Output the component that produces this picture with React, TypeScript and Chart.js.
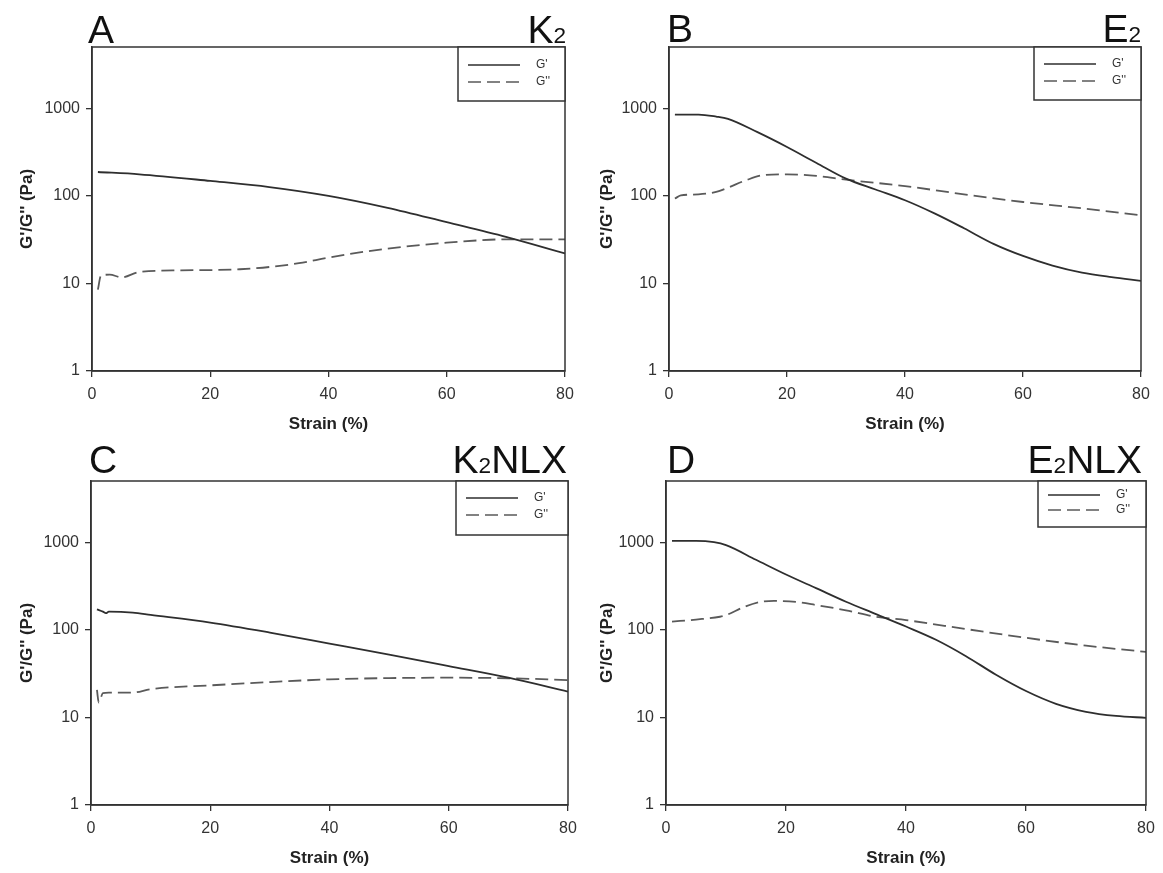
import React, { useEffect, useRef } from 'react';
import { Chart, registerables } from 'chart.js';

Chart.register(...registerables);

// ---------- shared axis ticks ----------
const xTickValues = [0, 20, 40, 60, 80];
const yTickValues = [1, 10, 100, 1000];
const yMin = 1;
const yMax = 5000;
const xMin = 0;
const xMax = 80;

const seriesLabels = ["G'", "G''"];
const xAxisTitle = 'Strain (%)';
const yAxisTitle = "G'/G'' (Pa)";

// ---------- Panel A: K2 ----------
const strainA_G1 = [1, 8, 20, 30, 40, 50, 60, 70, 80];
const valueA_G1 = [187, 176, 148, 126, 100, 73, 50, 34, 22];
const strainA_G2 = [1, 1.5, 3, 5, 8, 15, 20, 25, 30, 35, 40, 45, 50, 55, 60, 65, 70, 80];
const valueA_G2 = [8.5, 12.2, 12.6, 11.7, 13.5, 14.1, 14.2, 14.5, 15.4, 17, 19.7, 22.4, 25, 27.2, 29.2, 30.9, 31.9, 31.9];

// ---------- Panel B: E2 ----------
const strainB_G1 = [1, 5, 8, 10, 15, 20, 25, 30, 35, 40, 45, 50, 55, 60, 65, 70, 75, 80];
const valueB_G1 = [847, 847, 804, 757, 533, 361, 237, 157, 118, 89, 63, 42.6, 28.3, 20.6, 16, 13.3, 11.8, 10.7];
const strainB_G2 = [1, 2, 5, 8, 10, 13, 16, 20, 25, 30, 40, 50, 60, 70, 80];
const valueB_G2 = [93, 101, 104, 111, 124, 150, 172, 176, 169, 153, 129, 104, 85, 72, 60];

// ---------- Panel C: K2NLX ----------
const strainC_G1 = [1, 2, 2.5, 3, 7, 10, 20, 30, 40, 50, 60, 70, 80];
const valueC_G1 = [171, 161, 155, 161, 157, 148, 121, 93, 69.6, 52, 38.5, 28.4, 19.7];
const strainC_G2 = [1, 1.3, 2, 3, 7, 10, 20, 30, 40, 50, 60, 70, 80];
const valueC_G2 = [20.6, 14.8, 18.9, 19.2, 19.2, 21, 23.2, 25.3, 27.2, 28.1, 28.4, 28, 26.7];

// ---------- Panel D: E2NLX ----------
const strainD_G1 = [1, 5, 8, 10, 15, 20, 25, 30, 35, 40, 45, 50, 55, 60, 65, 70, 75, 80];
const valueD_G1 = [1035, 1035, 1000, 926, 630, 428, 299, 209, 151, 109, 77, 50, 30.7, 20, 14.3, 11.6, 10.4, 9.9];
const strainD_G2 = [1, 5, 9, 10, 13, 16, 18, 22, 25, 30, 35, 40, 50, 60, 70, 80];
const valueD_G2 = [124, 131, 141, 147, 182, 210, 214, 207, 192, 167, 141, 129, 102, 81, 66, 56];

const FONT = "'Liberation Sans', Arial, Helvetica, sans-serif";
const FRAME = '#333333';

type PanelCfg = {
  letter: string;
  name: [string, string, string];
  x1: number[]; y1: number[]; x2: number[]; y2: number[];
  left: number; top: number; w: number; h: number;
  areaL: number; areaR: number; areaT: number; areaB: number;
  letterX: number; nameRight: number; baseline: number;
  legW: number; legH: number; leg1: number; leg2: number;
};

const panels: PanelCfg[] = [
  {
    letter: 'A', name: ['K', '2', ''],
    x1: strainA_G1, y1: valueA_G1, x2: strainA_G2, y2: valueA_G2,
    left: 0, top: 0, w: 580, h: 440,
    areaL: 92, areaR: 565, areaT: 47, areaB: 371,
    letterX: 88, nameRight: 566, baseline: 43,
    legW: 107, legH: 54, leg1: 18, leg2: 35,
  },
  {
    letter: 'B', name: ['E', '2', ''],
    x1: strainB_G1, y1: valueB_G1, x2: strainB_G2, y2: valueB_G2,
    left: 580, top: 0, w: 583, h: 440,
    areaL: 669, areaR: 1141, areaT: 47, areaB: 371,
    letterX: 667, nameRight: 1141, baseline: 42,
    legW: 107, legH: 53, leg1: 17, leg2: 34,
  },
  {
    letter: 'C', name: ['K', '2', 'NLX'],
    x1: strainC_G1, y1: valueC_G1, x2: strainC_G2, y2: valueC_G2,
    left: 0, top: 440, w: 580, h: 433,
    areaL: 91, areaR: 568, areaT: 481, areaB: 805,
    letterX: 89, nameRight: 567, baseline: 473,
    legW: 112, legH: 54, leg1: 17, leg2: 34,
  },
  {
    letter: 'D', name: ['E', '2', 'NLX'],
    x1: strainD_G1, y1: valueD_G1, x2: strainD_G2, y2: valueD_G2,
    left: 580, top: 440, w: 583, h: 433,
    areaL: 666, areaR: 1146, areaT: 481, areaB: 805,
    letterX: 667, nameRight: 1142, baseline: 473,
    legW: 108, legH: 46, leg1: 14, leg2: 29,
  },
];

function toPoints(xs: number[], ys: number[]) {
  return xs.map((x, i) => ({ x, y: ys[i] }));
}

const framePlugin = {
  id: 'frame',
  afterDatasetsDraw(chart: any) {
    const { ctx, chartArea: a } = chart;
    ctx.save();
    ctx.strokeStyle = FRAME;
    ctx.lineWidth = 1.5;
    ctx.strokeRect(a.left, a.top, a.right - a.left, a.bottom - a.top);
    ctx.restore();
  },
};

function makeLegendPlugin(c: PanelCfg) {
  return {
    id: 'boxLegend',
    afterDraw(chart: any) {
      const { ctx, chartArea: a } = chart;
      const x0 = a.right - c.legW;
      const y0 = a.top;
      ctx.save();
      ctx.fillStyle = '#ffffff';
      ctx.fillRect(x0, y0, c.legW, c.legH);
      ctx.strokeStyle = FRAME;
      ctx.lineWidth = 1.5;
      ctx.strokeRect(x0, y0, c.legW, c.legH);
      const rows = [
        { y: y0 + c.leg1, dash: [] as number[], color: '#2e2e2e', label: seriesLabels[0] },
        { y: y0 + c.leg2, dash: [13, 6], color: '#5a5a5a', label: seriesLabels[1] },
      ];
      rows.forEach((r) => {
        ctx.beginPath();
        ctx.setLineDash(r.dash);
        ctx.strokeStyle = r.color;
        ctx.lineWidth = 1.6;
        ctx.moveTo(x0 + 10, r.y);
        ctx.lineTo(x0 + 62, r.y);
        ctx.stroke();
        ctx.setLineDash([]);
        ctx.fillStyle = '#333';
        ctx.font = `12px ${FONT}`;
        ctx.textBaseline = 'middle';
        ctx.textAlign = 'left';
        ctx.fillText(r.label, x0 + 78, r.y);
      });
      ctx.restore();
    },
  };
}

function Panel({ c }: { c: PanelCfg }) {
  const ref = useRef<HTMLCanvasElement | null>(null);
  useEffect(() => {
    const padTop = c.areaT - c.top;
    const padRight = c.left + c.w - c.areaR;
    const yW = c.areaL - c.left;
    const xH = c.top + c.h - c.areaB;
    const titleSize = 17;
    const lh = titleSize * 1.2;
    const xTitlePadBottom = xH - 53 - lh / 2;
    const yTitlePadTop = 27 - lh / 2;
    const tickFont = { family: FONT, size: 16 };
    const chart = new Chart(ref.current as HTMLCanvasElement, {
      type: 'line',
      data: {
        datasets: [
          {
            label: seriesLabels[0],
            data: toPoints(c.x1, c.y1),
            borderColor: '#2e2e2e',
            borderWidth: 1.8,
            pointRadius: 0,
            cubicInterpolationMode: 'monotone',
            fill: false,
          },
          {
            label: seriesLabels[1],
            data: toPoints(c.x2, c.y2),
            borderColor: '#5a5a5a',
            borderWidth: 1.8,
            borderDash: [13, 6],
            pointRadius: 0,
            cubicInterpolationMode: 'monotone',
            fill: false,
          },
        ],
      } as any,
      options: {
        responsive: false,
        maintainAspectRatio: false,
        animation: false,
        layout: { padding: { left: 0, top: padTop, right: padRight, bottom: 0 } },
        plugins: {
          legend: { display: false },
          tooltip: { enabled: false },
          title: { display: false },
        },
        scales: {
          x: {
            type: 'linear',
            min: xMin,
            max: xMax,
            afterBuildTicks: (s: any) => { s.ticks = xTickValues.map((v) => ({ value: v })); },
            afterFit: (s: any) => {
              s.height = xH;
              s.paddingLeft = 0;
              s.paddingRight = 0;
              s.paddingTop = 0;
              s.paddingBottom = 0;
            },
            ticks: { color: '#333', font: tickFont, padding: 8, maxRotation: 0, callback: (v: any) => String(v) },
            grid: { display: true, drawOnChartArea: false, drawTicks: true, tickLength: 6, color: FRAME, lineWidth: 1.3 },
            border: { display: true, color: FRAME, width: 1.5 },
            title: {
              display: true, text: xAxisTitle, color: '#222',
              font: { family: FONT, size: titleSize, weight: 'bold' },
              padding: { top: 0, bottom: xTitlePadBottom },
            },
          },
          y: {
            type: 'logarithmic',
            min: yMin,
            max: yMax,
            afterBuildTicks: (s: any) => { s.ticks = yTickValues.map((v) => ({ value: v })); },
            afterFit: (s: any) => {
              s.width = yW;
              s.paddingTop = 0;
              s.paddingBottom = 0;
              s.paddingLeft = 0;
              s.paddingRight = 0;
            },
            ticks: { color: '#333', font: tickFont, padding: 6, callback: (v: any) => String(v) },
            grid: { display: true, drawOnChartArea: false, drawTicks: true, tickLength: 6, color: FRAME, lineWidth: 1.3 },
            border: { display: true, color: FRAME, width: 1.5 },
            title: {
              display: true, text: yAxisTitle, color: '#222',
              font: { family: FONT, size: titleSize, weight: 'bold' },
              padding: { top: yTitlePadTop, bottom: 0 },
            },
          },
        },
      } as any,
      plugins: [framePlugin, makeLegendPlugin(c)],
    });
    return () => chart.destroy();
  }, [c]);

  const fs = 39;
  const textTop = (b: number) => b - 0.8465 * fs;
  const letterStyle: React.CSSProperties = {
    position: 'absolute', fontFamily: FONT, fontSize: fs, lineHeight: `${fs}px`,
    color: '#111', whiteSpace: 'nowrap', margin: 0,
  };
  return (
    <>
      <canvas
        ref={ref}
        width={c.w}
        height={c.h}
        style={{ position: 'absolute', left: c.left, top: c.top, width: c.w, height: c.h }}
      />
      <div style={{ ...letterStyle, left: c.letterX, top: textTop(c.baseline) }}>{c.letter}</div>
      <div style={{ ...letterStyle, right: 1163 - c.nameRight, top: textTop(c.baseline), textAlign: 'right' }}>
        {c.name[0]}
        <span style={{ fontSize: '0.58em' }}>{c.name[1]}</span>
        {c.name[2]}
      </div>
    </>
  );
}

export default function App() {
  return (
    <div style={{ position: 'absolute', left: 0, top: 0, width: 1163, height: 873, background: '#ffffff', overflow: 'hidden' }}>
      {panels.map((p) => (
        <Panel key={p.letter} c={p} />
      ))}
    </div>
  );
}
